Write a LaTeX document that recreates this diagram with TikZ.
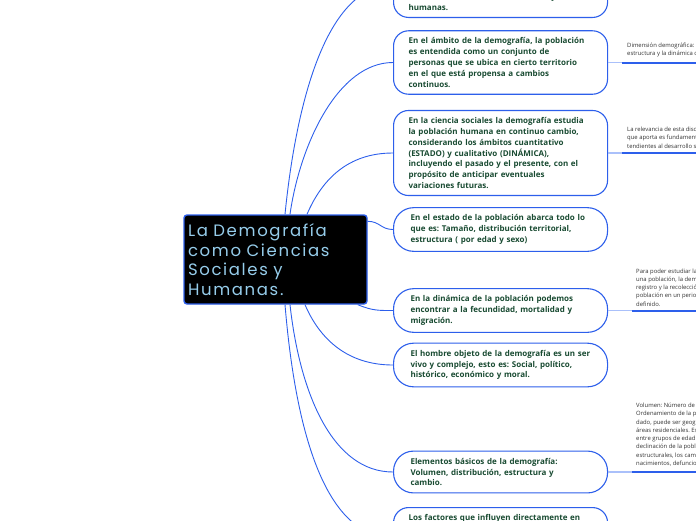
\documentclass[tikz,border=0pt]{standalone}
\usepackage{fontspec}
\setmainfont{Open Sans}
\newfontfamily\raizfont{Poppins}[LetterSpace=10]
\frenchspacing
\definecolor{azul}{RGB}{45,95,235}
\definecolor{azulclaro}{RGB}{170,192,250}
\definecolor{celeste}{RGB}{150,205,235}
\definecolor{verde}{RGB}{25,75,50}

\tikzset{
  raiz/.style={draw=azul, fill=black, line width=1.4pt, rounded corners=3pt, text=celeste,
    align=left, text width=175pt, inner xsep=4pt, minimum height=89pt,
    font=\raizfont\fontsize{16.5}{19.5}\selectfont},
  rama/.style={draw=azul, fill=white, line width=1.1pt, rounded corners=15pt, text=verde,
    align=left, text width=184pt, inner xsep=15pt, inner ysep=7pt, anchor=west,
    font=\bfseries\fontsize{8}{10.8}\selectfont},
  pildora/.style={rama, rounded corners=20pt, text width=180pt, inner xsep=17pt},
  enlace/.style={draw=azul, line width=0.9pt},
  guia/.style={draw=azulclaro, line width=1.5pt},
  subraya/.style={draw=azul, line width=2pt},
  nota/.style={anchor=south west, align=left, inner sep=0pt, text=black!80,
    font=\fontsize{5.9}{8.3}\selectfont}
}

\begin{document}
\begin{tikzpicture}[x=1pt, y=-1pt]
  \useasboundingbox (0,0) rectangle (696,520);
  \clip (0,0) rectangle (696,520);

  % nodo central
  \node[raiz] (raiz) at (275.5,259.5) {La Demografía\\como Ciencias\\Sociales y\\Humanas.};

  % ramas
  \node[rama, anchor=south west, text height=40pt] (r0) at (393,18) {Se vincula con las ciencias sociales y\\humanas.};
  \node[rama] (r1) at (393,62.5) {En el ámbito de la demografía, la población\\es entendida como un conjunto de\\personas que se ubica en cierto territorio\\en el que está propensa a cambios\\continuos.};
  \node[rama] (r2) at (393,153) {En la ciencia sociales la demografía estudia\\la población humana en continuo cambio,\\considerando los ámbitos cuantitativo\\(ESTADO) y cualitativo (DINÁMICA),\\incluyendo el pasado y el presente, con el\\propósito de anticipar eventuales\\variaciones futuras.};
  \node[pildora] (r3) at (393,229.5) {En el estado de la población abarca todo lo\\que es: Tamaño, distribución territorial,\\estructura ( por edad y sexo)};
  \node[pildora] (r4) at (393,310.5) {En la dinámica de la población podemos\\encontrar a la fecundidad, mortalidad y\\migración.};
  \node[pildora] (r5) at (393,365) {El hombre objeto de la demografía es un ser\\vivo y complejo, esto es: Social, político,\\histórico, económico y moral.};
  \node[pildora] (r6) at (393,472) {Elementos básicos de la demografía:\\Volumen, distribución, estructura y\\cambio.};
  \node[rama, anchor=north west, text depth=40pt] (r7) at (393,507) {Los factores que influyen directamente en};

  % enlaces
  \draw[enlace] ([xshift=9.5pt]raiz.north) .. controls +(10,-100) and +(-70,0) .. (r0.west);
  \draw[enlace] ([xshift=14.5pt]raiz.north) .. controls +(10,-70) and +(-55,0) .. (r1.west);
  \draw[enlace] ([xshift=31.5pt]raiz.north) .. controls +(15,-35) and +(-45,0) .. (r2.west);
  \draw[enlace] ([yshift=-7pt]raiz.north east) .. controls +(12,0) and +(-12,0) .. (r3.west);
  \draw[enlace] ([xshift=-10pt]raiz.south east) .. controls +(15,6) and +(-15,0) .. (r4.west);
  \draw[enlace] ([xshift=29.5pt]raiz.south) .. controls +(15,35) and +(-45,0) .. (r5.west);
  \draw[enlace] ([xshift=14.5pt]raiz.south) .. controls +(10,90) and +(-60,0) .. (r6.west);
  \draw[enlace] ([xshift=9.5pt]raiz.south) .. controls +(10,120) and +(-70,0) .. (r7.west);

  % notas
  \foreach \r/\g in {r1/622, r2/622, r4/632, r6/632} {
    \coordinate (g-\r) at (\g,0 |- \r.east);
    \coordinate (f-\r) at (700,0 |- \r.east);
    \draw[guia] (\r.east) -- (g-\r);
    \draw[subraya] (g-\r) -- (f-\r);
  }
  \node[nota] (t1) at (627,57.5) {Dimensión demográfica:\\estructura y la dinámica de};
  \node[nota] (t2) at (627,148.5) {La relevancia de esta disciplina\\que aporta es fundamental\\tendientes al desarrollo social};
  \node[nota] (t3) at (636,306.5) {Para poder estudiar la\\una población, la demografía\\registro y la recolección\\población en un periodo\\definido.};
  \node[nota] (t4) at (636,466.5) {Volumen: Número de\\Ordenamiento de la población\\dado, puede ser geográfico\\áreas residenciales. Estructura\\entre grupos de edad\\declinación de la población\\estructurales, los cambios\\nacimientos, defunciones};
\end{tikzpicture}
\end{document}
